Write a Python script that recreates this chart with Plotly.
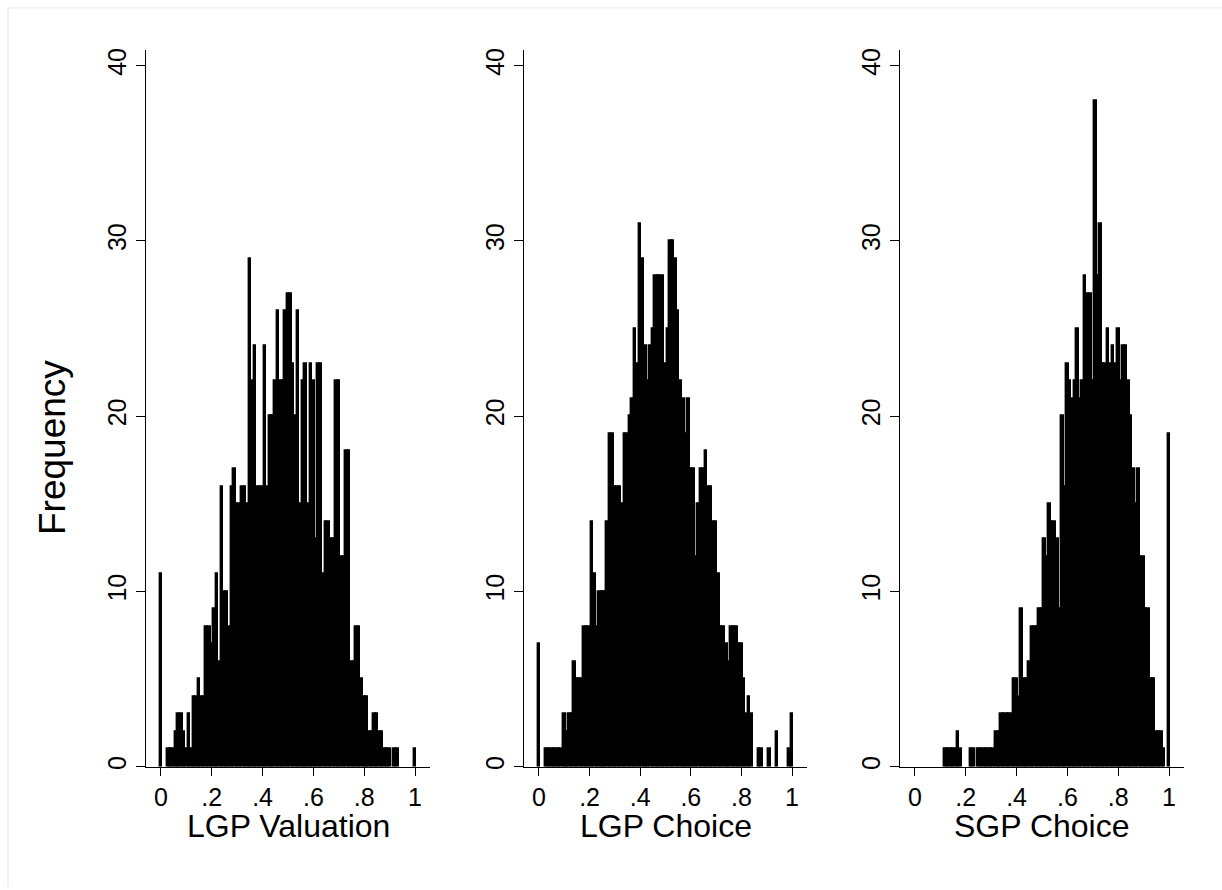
import plotly.graph_objects as go

# bin centres (histogram bins of width 0.01 on [0, 1])
bin_centers = [round(i * 0.01, 2) for i in range(101)]

lgp_valuation = [
    11, 0, 0, 1, 1, 1, 2, 3, 3, 2,
    1, 3, 1, 4, 4, 5, 4, 4, 8, 8,
    7, 9, 11, 6, 16, 10, 10, 8, 16, 17,
    15, 15, 16, 16, 15, 29, 22, 24, 16, 16,
    16, 24, 16, 20, 20, 22, 26, 22, 22, 26,
    27, 27, 23, 20, 26, 15, 22, 23, 15, 23,
    22, 13, 23, 23, 11, 14, 14, 13, 13, 22,
    22, 12, 12, 18, 18, 6, 6, 8, 8, 5,
    4, 4, 2, 2, 3, 3, 2, 2, 1, 1,
    1, 0, 1, 1, 0, 0, 0, 0, 0, 0,
    1,
]

lgp_choice = [
    7, 0, 0, 1, 1, 1, 1, 1, 1, 1,
    3, 2, 3, 3, 6, 5, 5, 5, 8, 8,
    8, 14, 11, 8, 10, 10, 10, 14, 19, 19,
    16, 16, 16, 15, 19, 19, 20, 21, 25, 23,
    31, 29, 24, 22, 24, 25, 28, 28, 28, 28,
    23, 25, 30, 30, 29, 26, 22, 21, 19, 21,
    17, 17, 12, 15, 17, 17, 18, 16, 16, 14,
    14, 11, 8, 8, 7, 6, 8, 8, 8, 7,
    7, 5, 3, 4, 3, 0, 0, 1, 1, 0,
    0, 1, 0, 0, 2, 0, 0, 0, 0, 1,
    3,
]

sgp_choice = [
    0, 0, 0, 0, 0, 0, 0, 0, 0, 0,
    0, 0, 1, 1, 1, 1, 1, 2, 1, 0,
    0, 0, 1, 1, 0, 1, 1, 1, 1, 1,
    1, 1, 2, 2, 3, 3, 3, 3, 3, 5,
    5, 4, 9, 5, 5, 6, 8, 8, 8, 9,
    9, 13, 12, 15, 14, 14, 13, 9, 20, 16,
    23, 22, 21, 22, 25, 21, 22, 28, 27, 27,
    22, 38, 28, 31, 23, 23, 25, 23, 24, 23,
    25, 22, 24, 24, 22, 20, 17, 15, 17, 12,
    12, 9, 9, 5, 5, 2, 2, 2, 1, 0,
    19,
]

panel_titles = ["LGP Valuation", "LGP Choice", "SGP Choice"]
x_tickvals = [0, 0.2, 0.4, 0.6, 0.8, 1]
x_ticktext = ["0", ".2", ".4", ".6", ".8", "1"]
y_tickvals = [0, 10, 20, 30, 40]
y_ticktext = ["0", "10", "20", "30", "40"]
y_title = "Frequency"

W, H = 1222, 890
FONT = "Liberation Sans, Arial, Helvetica, sans-serif"

# panel pixel extents (left, right)
panels_px = [(146, 430), (524, 807), (900, 1184)]
plot_bottom, plot_top = 769, 48

fig = go.Figure()
series = [lgp_valuation, lgp_choice, sgp_choice]
for k, vals in enumerate(series):
    sfx = "" if k == 0 else str(k + 1)
    # empty bins draw nothing
    xs = [b for b, v in zip(bin_centers, vals) if v > 0]
    ys = [v for v in vals if v > 0]
    fig.add_trace(go.Bar(
        x=xs, y=ys, width=0.0102,
        marker=dict(color="black", line=dict(width=1.4, color="black")),
        xaxis="x" + sfx, yaxis="y" + sfx, showlegend=False,
        hoverinfo="x+y",
    ))

layout = dict(
    width=W, height=H, autosize=False,
    margin=dict(l=0, r=0, t=0, b=0),
    paper_bgcolor="white", plot_bgcolor="white",
    bargap=0, barmode="overlay",
    font=dict(family=FONT, color="black"),
    showlegend=False,
)

yd = [(H - plot_bottom) / H, (H - plot_top) / H]
ytop = 40.0 * (plot_bottom - plot_top) / (plot_bottom - 64)
for k, (l, r) in enumerate(panels_px):
    sfx = "" if k == 0 else str(k + 1)
    xa = dict(
        domain=[l / W, r / W], range=[-0.059, 1.059],
        anchor="y" + sfx,
        showline=True, linecolor="black", linewidth=1.2,
        ticks="outside", ticklen=8, tickwidth=1.2, tickcolor="black",
        tickvals=x_tickvals, ticktext=x_ticktext,
        tickfont=dict(size=25, family=FONT, color="black"),
        showgrid=False, zeroline=False, fixedrange=True,
    )
    ya = dict(
        domain=yd, range=[0, ytop],
        anchor="x" + sfx,
        showline=True, linecolor="black", linewidth=1.2,
        ticks="outside", ticklen=9, tickwidth=1.2, tickcolor="black",
        tickvals=y_tickvals, ticktext=y_ticktext, tickangle=-90,
        tickfont=dict(size=25, family=FONT, color="black"),
        showgrid=False, zeroline=False, fixedrange=True,
    )
    layout["xaxis" + sfx] = xa
    layout["yaxis" + sfx] = ya

annotations = []
for k, t in enumerate(panel_titles):
    sfx = "" if k == 0 else str(k + 1)
    annotations.append(dict(
        text=t, xref="x" + sfx, x=0.5, yref="paper", y=(H - 829) / H,
        xanchor="center", yanchor="middle", showarrow=False,
        font=dict(size=32, family=FONT, color="black"),
    ))
annotations.append(dict(
    text=y_title, xref="paper", x=53 / W, yref="paper", y=(H - 447.5) / H,
    xanchor="center", yanchor="middle", textangle=-90, showarrow=False,
    font=dict(size=37, family=FONT, color="black"),
))
layout["annotations"] = annotations

layout["shapes"] = [
    dict(type="line", xref="paper", yref="paper",
         x0=8 / W, x1=1.0, y0=(H - 6) / H, y1=(H - 6) / H,
         line=dict(color="#e3e9ee", width=1)),
    dict(type="line", xref="paper", yref="paper",
         x0=8 / W, x1=8 / W, y0=0, y1=(H - 6) / H,
         line=dict(color="#e3e9ee", width=1)),
]

fig.update_layout(**layout)
fig.write_html(
    "out.html",
    config={"displayModeBar": False},
    post_script="document.body.style.margin='0';document.body.style.overflow='hidden';",
)
